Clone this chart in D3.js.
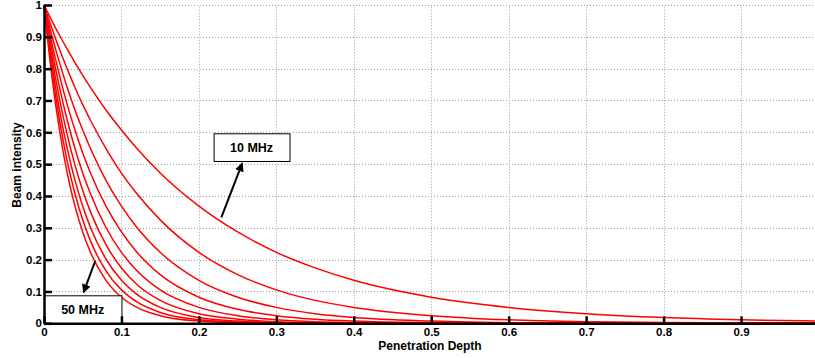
<!DOCTYPE html>
<html>
<head>
<meta charset="utf-8">
<script src="https://cdn.jsdelivr.net/npm/d3@7"></script>
<style>
  body { margin: 0; background: #fff; }
  svg text { font-family: "Liberation Sans", Arial, Helvetica, sans-serif; font-weight: bold; }
</style>
</head>
<body>
<svg width="815" height="358"></svg>
<script>
// depth samples (x) and beam intensity per frequency
var depth = [0, 0.01, 0.02, 0.03, 0.04, 0.05, 0.06, 0.08, 0.1, 0.12, 0.15, 0.2, 0.25, 0.3, 0.35, 0.4, 0.5, 0.6, 0.7, 0.8, 0.9, 1.0];

var f10 = [1, 0.951, 0.905, 0.861, 0.819, 0.779, 0.741, 0.670, 0.607, 0.549, 0.472, 0.368, 0.287, 0.223, 0.174, 0.135, 0.082, 0.050, 0.030, 0.018, 0.011, 0.007];
var f15 = [1, 0.928, 0.861, 0.799, 0.741, 0.687, 0.638, 0.549, 0.472, 0.407, 0.325, 0.223, 0.153, 0.105, 0.072, 0.050, 0.024, 0.011, 0.005, 0.0025, 0.0012, 0.0006];
var f20 = [1, 0.905, 0.819, 0.741, 0.670, 0.607, 0.549, 0.449, 0.368, 0.301, 0.223, 0.135, 0.082, 0.050, 0.030, 0.018, 0.007, 0.002, 0.001, 0.0003, 0.0001, 0];
var f25 = [1, 0.882, 0.779, 0.687, 0.607, 0.535, 0.472, 0.368, 0.287, 0.223, 0.153, 0.082, 0.044, 0.024, 0.013, 0.007, 0.002, 0.0006, 0.0002, 0, 0, 0];
var f30 = [1, 0.861, 0.741, 0.638, 0.549, 0.472, 0.407, 0.301, 0.223, 0.165, 0.105, 0.050, 0.024, 0.011, 0.005, 0.0025, 0.0006, 0.0001, 0, 0, 0, 0];
var f35 = [1, 0.839, 0.705, 0.592, 0.497, 0.417, 0.350, 0.247, 0.174, 0.122, 0.072, 0.030, 0.013, 0.005, 0.002, 0.0009, 0.0002, 0, 0, 0, 0, 0];
var f40 = [1, 0.819, 0.670, 0.549, 0.449, 0.368, 0.301, 0.202, 0.135, 0.091, 0.050, 0.018, 0.007, 0.0025, 0.0009, 0.0003, 0, 0, 0, 0, 0, 0];
var f45 = [1, 0.799, 0.638, 0.509, 0.407, 0.325, 0.259, 0.165, 0.105, 0.067, 0.034, 0.011, 0.004, 0.001, 0.0004, 0, 0, 0, 0, 0, 0, 0];
var f50 = [1, 0.779, 0.607, 0.472, 0.368, 0.287, 0.223, 0.135, 0.082, 0.050, 0.024, 0.007, 0.002, 0.0006, 0.0002, 0, 0, 0, 0, 0, 0, 0];

var series = [f10, f15, f20, f25, f30, f35, f40, f45, f50];

var xTicks = [0, 0.1, 0.2, 0.3, 0.4, 0.5, 0.6, 0.7, 0.8, 0.9];
var yTicks = [0, 0.1, 0.2, 0.3, 0.4, 0.5, 0.6, 0.7, 0.8, 0.9, 1];

var svg = d3.select("svg"),
    width = +svg.attr("width"),
    height = +svg.attr("height");

var x = d3.scaleLinear().domain([0, 1]).range([44, 818.5]);
var y = d3.scaleLinear().domain([0, 1]).range([323.3, 5]);

// dotted grid
var grid = svg.append("g")
    .attr("stroke", "#a0a0a0")
    .attr("stroke-width", 1)
    .attr("stroke-dasharray", "1,2");

grid.selectAll(".gx")
    .data(xTicks.filter(function(d) { return d > 0; }))
    .enter().append("line")
    .attr("x1", function(d) { return Math.round(x(d)) + 0.5; })
    .attr("x2", function(d) { return Math.round(x(d)) + 0.5; })
    .attr("y1", y(0))
    .attr("y2", y(1));

grid.selectAll(".gy")
    .data(yTicks.filter(function(d) { return d > 0; }))
    .enter().append("line")
    .attr("x1", x(0))
    .attr("x2", width)
    .attr("y1", function(d) { return Math.round(y(d)) + 0.5; })
    .attr("y2", function(d) { return Math.round(y(d)) + 0.5; });

// curves
var line = d3.line()
    .x(function(d, i) { return x(depth[i]); })
    .y(function(d) { return y(d); })
    .curve(d3.curveMonotoneX);

svg.append("g")
    .selectAll("path")
    .data(series)
    .enter().append("path")
    .attr("d", line)
    .attr("fill", "none")
    .attr("stroke", "#ff0000")
    .attr("stroke-width", 1.5);

// axes
var xAxis = d3.axisBottom(x).tickValues(xTicks).tickSizeInner(-7).tickSizeOuter(0).tickPadding(4.5)
    .tickFormat(function(d) { return d === 0 ? "0" : d3.format(".1f")(d); });
var yAxis = d3.axisLeft(y).tickValues(yTicks).tickSizeInner(-8).tickSizeOuter(0).tickPadding(2)
    .tickFormat(function(d) { return d === 0 || d === 1 ? String(d) : d3.format(".1f")(d); });

var gx = svg.append("g").attr("transform", "translate(0," + y(0) + ")").call(xAxis);
var gy = svg.append("g").attr("transform", "translate(" + x(0) + ",0)").call(yAxis);

[gx, gy].forEach(function(g) {
    g.attr("font-family", null).attr("font-size", null);
    g.select(".domain").attr("stroke", "#000").attr("stroke-width", 2.5);
    g.selectAll(".tick line").attr("stroke", "#000").attr("stroke-width", 2.5);
    g.selectAll(".tick text").style("font-size", "11.5px").attr("fill", "#000");
});

// axis labels
svg.append("text")
    .attr("x", 430)
    .attr("y", 350)
    .attr("text-anchor", "middle")
    .style("font-size", "12px")
    .text("Penetration Depth");

svg.append("text")
    .attr("transform", "translate(21,165) rotate(-90)")
    .attr("text-anchor", "middle")
    .style("font-size", "12px")
    .text("Beam intensity");

// annotations
var defs = svg.append("defs");
defs.append("marker")
    .attr("id", "head")
    .attr("viewBox", "0 0 10 10")
    .attr("refX", 9)
    .attr("refY", 5)
    .attr("markerWidth", 4.5)
    .attr("markerHeight", 4.5)
    .attr("orient", "auto")
    .append("path")
    .attr("d", "M0,0L10,5L0,10z")
    .attr("fill", "#000");

var boxes = [
    {label: "10 MHz", x0: 0.219, x1: 0.317, y0: 0.51, y1: 0.597},
    {label: "50 MHz", x0: 0, x1: 0.1, y0: 0, y1: 0.088}
];
var arrows = [
    {x0: 0.229, y0: 0.333, x1: 0.256, y1: 0.503},
    {x0: 0.066, y0: 0.195, x1: 0.051, y1: 0.097}
];

svg.append("g").selectAll("line")
    .data(arrows)
    .enter().append("line")
    .attr("x1", function(d) { return x(d.x0); })
    .attr("y1", function(d) { return y(d.y0); })
    .attr("x2", function(d) { return x(d.x1); })
    .attr("y2", function(d) { return y(d.y1); })
    .attr("stroke", "#000")
    .attr("stroke-width", 2)
    .attr("marker-end", "url(#head)");

var bx = svg.append("g").selectAll("g")
    .data(boxes)
    .enter().append("g");

bx.append("rect")
    .attr("x", function(d) { return x(d.x0) + 0.5; })
    .attr("y", function(d) { return y(d.y1) + 0.5; })
    .attr("width", function(d) { return x(d.x1) - x(d.x0); })
    .attr("height", function(d) { return y(d.y0) - y(d.y1); })
    .attr("fill", "#fff")
    .attr("stroke", "#000")
    .attr("stroke-width", 1);

bx.append("text")
    .attr("x", function(d) { return (x(d.x0) + x(d.x1)) / 2; })
    .attr("y", function(d) { return (y(d.y0) + y(d.y1)) / 2 + 4.5; })
    .attr("text-anchor", "middle")
    .style("font-size", "12.5px")
    .text(function(d) { return d.label; });

// redraw axis lines over the bottom box
gx.raise();
gy.raise();
</script>
</body>
</html>
